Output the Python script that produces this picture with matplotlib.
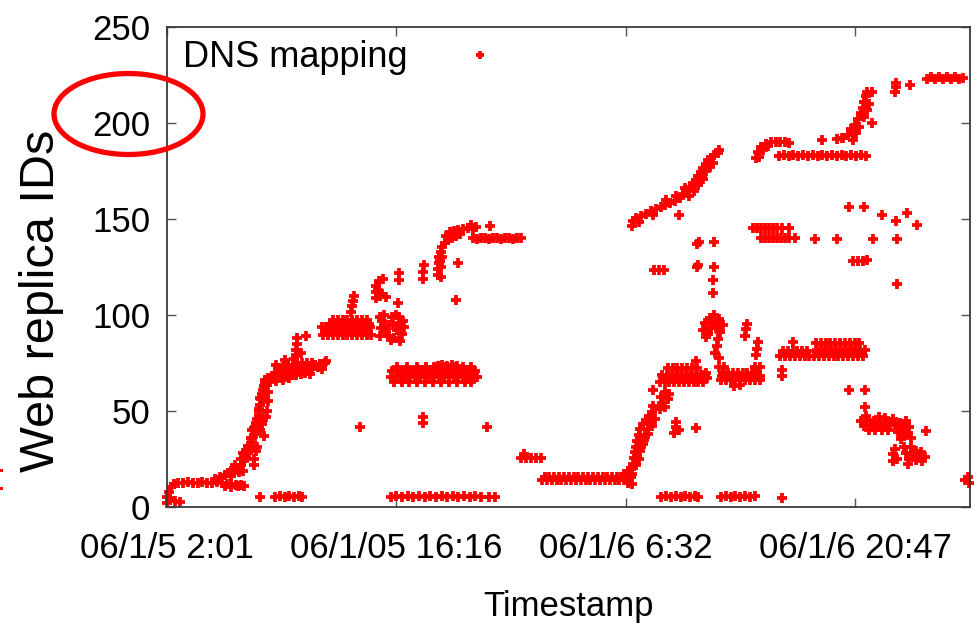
import matplotlib
matplotlib.use("Agg")
import matplotlib.pyplot as plt
from matplotlib.patches import Ellipse, Rectangle

# ---------------- data (hours since 06/1/5 2:01, replica ID) ----------------
x_tick_hours = [0.0, 14.25, 28.5, 42.75]
x_tick_labels = ["06/1/5 2:01", "06/1/05 16:16", "06/1/6 6:32", "06/1/6 20:47"]
y_ticks = [0, 50, 100, 150, 200, 250]

start_t = [0.0, 0.0, 0.1, 0.25, 0.45, 0.5, 0.8, 0.2]
start_id = [2, 5, 8, 10.5, 12, 3, 2.5, 4.5]

plat1_t = [0.7, 1.0, 1.3, 1.6, 1.9, 2.2, 2.5, 2.8, 3.1, 3.4, 3.7, 4.0, 4.3, 4.6, 3.6, 4.0, 4.4, 4.8]
plat1_id = [12.5, 12.5, 13, 12.5, 12.5, 13, 12.5, 12.5, 13, 12.5, 12, 12, 11.5, 11.5, 11, 10.5, 11, 11]

ramp1_t = [3.0, 3.3, 3.6, 3.8, 4.0, 4.2, 4.4, 4.0, 4.5, 4.7, 4.6, 4.8, 4.9, 5.0, 5.1, 5.2, 5.3,
           5.4, 5.3, 5.5, 5.4, 5.5, 5.6, 5.7, 5.8, 5.9, 5.7, 6.0, 5.8, 5.85, 5.9, 5.95, 6.0,
           6.1, 6.2, 6.3, 6.1, 6.3, 6.5, 6.7, 6.9, 6.4,
           4.6, 5.4, 5.5, 5.3, 5.9, 6.15, 5.8, 6.3, 4.2, 4.7, 5.2, 5.7, 5.05, 5.6, 6.05]
ramp1_id = [14.5, 15.5, 16.5, 17.5, 18.5, 19.5, 20.5, 16, 18, 19, 22, 24, 26, 28, 30, 32, 34,
            25, 36, 38, 41, 44, 46, 48, 40, 43, 51, 37, 53, 56, 59, 61, 63, 64, 50, 55, 66,
            67, 68, 69, 70, 65,
            25, 22, 29, 40, 45, 47, 57, 60, 22, 28, 36, 50, 32, 31, 56]

bulk1_t = [6.7, 7.0, 7.3, 7.6, 7.9, 8.2, 8.5, 8.8, 6.9, 7.2, 7.5, 7.8, 8.1, 8.4, 8.7, 9.0,
           7.4, 7.7, 8.0, 8.3, 8.6, 9.2, 9.5, 9.8, 9.0, 9.4,
           6.8, 7.2, 7.6, 6.8, 7.3, 7.9, 8.9, 9.6, 9.9]
bulk1_id = [69, 70, 70.5, 71, 71.5, 72, 72, 72.5, 72.5, 73, 73.5, 74, 74.5, 75, 75, 75,
            68, 68.5, 69, 69.5, 70, 74, 74.5, 75, 72, 73,
            65.5, 66, 67, 74, 76.5, 77, 69.5, 72, 76]

spike1_t = [8.0, 8.0, 8.05, 8.1, 8.3, 8.65]
spike1_id = [79, 82, 85, 88, 80, 89]

low1_t = [5.75, 6.7, 7.0, 7.3, 7.6, 7.9, 8.2, 8.4]
low1_id = [5.2, 5, 5.5, 5, 5.5, 5, 5.5, 5]

b1_t = [9.7, 10.0, 10.3, 10.6, 10.9, 11.2, 11.5, 11.8, 12.1, 12.4, 12.7,
        9.6, 9.9, 10.2, 10.5, 10.8, 11.1, 11.4, 11.7, 12.0, 12.3, 12.6,
        10.3, 10.6, 10.9, 11.2, 11.5, 11.8, 12.1, 12.4,
        11.45, 11.5, 11.55, 11.6,
        9.8, 10.1, 10.4, 10.7, 11.0, 11.3, 11.6, 11.9, 12.2, 12.5,
        10.15, 10.45, 10.75, 11.05, 11.35, 11.65, 11.95, 12.25, 12.55]
b1_id = [89.5, 89.5, 89.5, 89.5, 89.5, 89.5, 89.5, 89.5, 89.5, 89.5, 89.5,
         93.5, 93.5, 93.5, 93.5, 93.5, 93.5, 93.5, 93.5, 93.5, 93.5, 93.5,
         97.5, 97.5, 97.5, 97.5, 97.5, 97.5, 97.5, 97.5,
         101.5, 104.5, 107.5, 110,
         91.5, 91.5, 91.5, 91.5, 91.5, 91.5, 91.5, 91.5, 91.5, 91.5,
         95.5, 95.5, 95.5, 95.5, 95.5, 95.5, 95.5, 95.5, 95.5]

b2_t = [13.2, 13.3, 13.35, 13.6, 13.8, 14.0, 14.1, 14.3, 14.45, 14.6, 14.5, 13.9, 14.7, 13.5, 14.2, 14.35,
        13.45, 13.75, 14.05, 14.4, 13.25, 14.65]
b2_id = [89, 93, 97, 91, 95, 99, 88, 92, 96, 90, 86.5, 87, 94, 100, 100, 106,
         94, 89, 95, 99, 99, 97]

arc1_t = [13.0, 12.95, 13.0, 13.15, 13.4, 13.35, 13.6, 14.4, 14.4, 15.9, 15.9, 15.95,
          16.85, 16.85, 16.9, 16.9, 17.0, 17.1, 17.25, 17.45, 17.7, 17.95, 18.2, 17.05, 17.0,
          17.6, 17.85, 18.1, 18.4, 18.7, 19.0, 19.2, 20.05, 18.1, 17.95,
          13.1, 13.2, 17.0, 16.95, 17.3, 18.9]
arc1_id = [109, 112, 115, 117.5, 119, 111, 109.5, 118, 122, 118.5, 122.5, 126,
           121, 124, 127, 130, 133, 135.5, 137.5, 139, 140, 141, 142, 130, 125,
           143, 144, 144.5, 145, 145.5, 145, 146, 146.5, 127, 108,
           113, 110, 120, 128, 141, 147]

bar140_t = [19.0, 19.25, 19.5, 19.75, 20.0, 20.25, 20.5, 20.75, 21.0, 21.25, 21.5, 21.75, 22.0]
bar140_id = [140, 139.5, 140, 140, 139.5, 140, 140, 139.5, 140, 140, 139.5, 140, 140]

c70_t = [13.9, 14.2, 14.5, 14.8, 15.1, 15.4, 15.7, 16.0, 16.3, 16.6, 16.9, 17.2, 17.5, 17.8,
         18.1, 18.4, 18.7, 19.0, 19.25,
         14.0, 14.35, 14.65, 14.95, 15.25, 15.55, 15.85, 16.15, 16.45, 16.75, 17.05, 17.35,
         17.65, 17.95, 18.25, 18.55, 18.85, 19.15,
         16.8, 17.1, 17.4, 17.7, 18.0,
         14.1, 14.6, 15.0, 15.5, 16.0, 16.5, 17.0, 17.5, 18.0, 18.5, 18.9,
         14.3, 14.9, 15.5, 16.1, 16.6, 17.3, 17.9, 18.4, 18.9]
c70_id = [67.5, 67.5, 67.5, 67.5, 67.5, 67.5, 67.5, 67.5, 67.5, 67.5, 67.5, 67.5, 67.5, 67.5,
          67.5, 67.5, 67.5, 67.5, 67.5,
          71, 71, 71, 71, 71, 71, 71, 71, 71, 71, 71, 71, 71, 71, 71, 71, 71, 71,
          73.5, 74, 73.5, 74, 73.5,
          65, 65, 65, 65, 65, 65, 65, 65, 65, 65, 65,
          73, 73, 73, 73, 73, 73, 73, 73, 73]

mid40_t = [12.0, 15.9, 15.9, 19.9]
mid40_id = [41.6, 47, 43.6, 41.6]

low5a_t = [13.9, 14.25, 14.6, 14.95, 15.3, 15.65, 16.0, 16.35, 16.7, 17.05, 17.4, 17.75,
           18.1, 18.45, 18.8, 19.15, 19.5, 20.0, 20.4]
low5a_id = [5, 5.5, 5, 5.5, 5, 5.5, 5, 5.5, 5, 5.5, 5, 5.5, 5, 5.5, 5, 5.5, 5, 5, 5]

d25_t = [22.0, 22.3, 22.6, 22.9, 23.2, 22.15]
d25_id = [25.5, 25.5, 25.5, 25.5, 25.5, 27.5]

e15_t = [23.3, 23.6, 23.9, 24.2, 24.5, 24.8, 25.1, 25.4, 25.7, 26.0, 26.3, 26.6, 26.9, 27.2,
         27.5, 27.8, 28.1, 28.4, 28.7,
         23.45, 23.75, 24.05, 24.35, 24.65, 24.95, 25.25, 25.55, 25.85, 26.15, 26.45, 26.75,
         27.05, 27.35, 27.65, 27.95, 28.25, 28.55, 28.8, 28.6, 28.9]
e15_id = [14, 14, 14, 14, 14, 14, 14, 14, 14, 14, 14, 14, 14, 14, 14, 14, 14, 14, 14,
          15.8, 15.8, 15.8, 15.8, 15.8, 15.8, 15.8, 15.8, 15.8, 15.8, 15.8, 15.8,
          15.8, 15.8, 15.8, 15.8, 15.8, 15.8, 15.8, 12.5, 12]

rise2_t = [28.4, 28.6, 28.8, 28.95, 29.0, 29.05, 29.1, 29.2, 29.3, 29.4, 29.55, 29.75, 29.95,
           30.15, 29.35, 29.55, 29.7, 29.85, 30.0, 29.2, 30.2, 30.2,
           29.15, 29.3, 29.45, 29.65, 29.9, 30.1, 30.3, 28.9]
rise2_id = [17, 18.5, 20, 22.5, 25.5, 28.5, 31.5, 34.5, 37.5, 40.5, 43, 45.5, 47.5,
            49.5, 29, 33, 37, 40.5, 43.5, 26, 52.5, 61,
            22, 25, 31, 35, 38, 42, 46, 17]

f55_t = [30.6, 30.75, 30.7, 30.9, 31.1, 30.95, 31.2]
f55_id = [51, 54, 57.5, 60, 56, 52, 59]

f70_t = [30.6, 30.9, 31.2, 31.5, 31.8, 32.1, 32.4, 32.7, 33.0, 33.3,
         30.75, 31.05, 31.35, 31.65, 31.95, 32.25, 32.55, 32.85, 33.15, 33.4,
         31.1, 31.4, 31.7, 32.0, 32.3, 32.6, 32.9, 32.85, 33.5, 33.55,
         30.85, 31.15, 31.45, 31.75, 32.05, 32.35, 32.65, 32.95, 33.25]
f70_id = [65, 65, 65, 65, 65, 65, 65, 65, 65, 65,
          69, 69, 69, 69, 69, 69, 69, 69, 69, 69,
          72.5, 72.5, 72.5, 72.5, 72.5, 72.5, 72.5, 76, 70, 67,
          67, 67, 67, 67, 67, 67, 67, 67, 67]

f40_t = [31.5, 31.6, 31.6, 31.8, 32.85]
f40_id = [38.5, 41.5, 44.5, 40, 41]

arc2_t = [28.85, 28.95, 29.15, 29.45, 29.75, 30.05, 30.35, 30.65, 30.95, 31.25, 31.55, 31.85,
          32.05, 32.25, 32.45, 32.65, 32.85, 33.0, 33.15, 33.3, 33.45, 33.6, 33.8, 34.0, 34.2,
          32.4, 32.7, 33.0, 33.3, 33.5, 33.7, 34.3, 29.3, 30.2,
          31.0, 31.6, 32.2, 32.9, 33.2, 33.9]
arc2_id = [146.5, 149, 150.5, 151.5, 152.5, 154, 155, 156, 157.5, 158.5, 159.5, 161,
           163, 164.5, 166.5, 168.5, 170.5, 172.5, 174.5, 176.5, 178.5, 180.5, 182, 183.5, 184.5,
           162, 164.5, 167.5, 171, 175, 177, 186, 148.5, 152,
           160, 162, 166, 169, 172, 179]

mid_sing_t = [31.8, 32.9, 33.05, 34.0, 32.9, 33.0, 34.0, 33.9, 33.9, 30.25, 30.55, 30.85]
mid_sing_id = [152, 137, 138, 138, 125, 126, 125, 118, 111.5, 123.5, 123.5, 123.5]

h95_t = [33.3, 33.5, 33.7, 33.9, 34.1, 34.35, 34.5, 33.6, 34.0, 34.3, 33.5, 34.05, 34.15, 34.2, 34.3,
         33.8, 34.2, 33.4]
h95_id = [92, 95.5, 98.5, 96, 93, 91, 95, 90, 100, 98, 88.5, 80, 84, 87.5, 77.5,
          93, 96, 96]

u70_t = [34.4, 34.7, 35.0, 35.3, 35.6, 35.9, 36.2, 36.5, 36.8,
         34.55, 34.85, 35.15, 35.45, 35.75, 36.05, 36.35, 36.65,
         34.3, 34.6, 36.5, 36.8, 35.2, 35.6,
         35.9, 35.95, 36.0, 36.55, 36.65, 36.7, 38.2, 38.2,
         34.45, 34.75, 35.05, 35.35, 35.65, 35.95, 36.25, 36.55, 36.85]
u70_id = [66, 66, 66, 66, 66, 66, 66, 66, 66,
          70, 70, 70, 70, 70, 70, 70, 70,
          73, 73, 73, 73, 63, 63.5,
          89, 92.5, 95.5, 79, 82.5, 86, 68, 71.5,
          68, 68, 68, 68, 68, 68, 68, 68, 68]

i80_t = [38.1, 38.4, 38.7, 39.0, 39.3, 39.6, 39.9,
         38.25, 38.55, 38.85, 39.15, 39.45, 39.75, 38.9,
         40.2, 40.5, 40.8, 41.1, 41.4, 41.7, 42.0, 42.3, 42.6, 42.9, 43.2,
         40.35, 40.65, 40.95, 41.25, 41.55, 41.85, 42.15, 42.45, 42.75, 43.05, 43.35,
         40.3, 40.6, 40.9, 41.2, 41.5, 41.8, 42.1, 42.4, 42.7, 43.0,
         40.45, 40.75, 41.05, 41.35, 41.65, 41.95, 42.25, 42.55, 42.85, 43.15]
i80_id = [78.5, 78.5, 78.5, 78.5, 78.5, 78.5, 78.5,
          81, 81, 81, 81, 81, 81, 86,
          78.5, 78.5, 78.5, 78.5, 78.5, 78.5, 78.5, 78.5, 78.5, 78.5, 78.5,
          82, 82, 82, 82, 82, 82, 82, 82, 82, 82, 82,
          85.5, 85.5, 85.5, 85.5, 85.5, 85.5, 85.5, 85.5, 85.5, 85.5,
          80, 80, 80, 80, 80, 80, 80, 80, 80, 80]

arc3_t = [36.6, 36.7, 36.9, 37.2, 37.5, 37.8, 38.1, 38.4, 38.6, 36.75, 37.0, 37.35]
arc3_id = [182, 185, 187.5, 189, 190, 190, 190, 190, 189.5, 182.5, 186, 188]

bar183_t = [38.0, 38.3, 38.6, 38.9, 39.2, 39.5, 39.8, 40.1, 40.4, 40.7, 41.0, 41.3, 41.6,
            41.9, 42.2, 42.5, 42.8, 43.1, 43.4]
bar183_id = [183, 183.5, 183, 183.5, 183, 183.5, 183, 183.5, 183, 183.5, 183, 183.5, 183,
             183.5, 183, 183.5, 183, 183.5, 183]

rise3_t = [40.7, 41.6, 42.6, 41.9, 42.0, 42.3, 42.5, 42.7, 42.9, 43.1, 43.2, 43.3, 43.4, 43.5,
           42.8, 43.0, 43.3, 43.5, 43.6, 43.8, 43.8, 45.2, 45.25, 45.3, 46.15]
rise3_id = [191, 191.5, 191, 192, 192, 194, 197, 199, 202, 205, 208, 211, 214, 216,
            195, 198, 203, 207, 210, 216, 200, 216, 218.5, 221, 220]

bar223_t = [47.2, 47.45, 47.7, 47.95, 48.2, 48.45, 48.7, 48.95, 49.2, 49.45]
bar223_id = [223, 224, 223, 224, 223, 224, 223, 224, 223, 223.5]

k140_t = [36.4, 36.65, 36.9, 37.15, 37.4, 37.65, 37.9, 38.2, 38.6,
          36.9, 37.15, 37.4, 37.65, 37.9, 38.15, 38.4, 38.65, 39.0,
          40.25, 41.6, 43.85, 45.35,
          42.35, 43.3, 44.4, 45.3, 45.95, 46.6,
          42.6, 42.9, 43.2, 43.45, 45.35]
k140_id = [145.5, 145.5, 145.5, 145.5, 145.5, 145.5, 145.5, 145.5, 145.5,
           140, 140, 140, 140, 140, 140, 140, 140, 140,
           139.5, 139.5, 139.5, 139.5,
           156, 156, 152, 149, 153, 147,
           128, 128, 128, 128.5, 116]

l40_t = [42.35, 43.35, 43.35,
         43.1, 43.3, 43.5, 43.7, 43.9, 44.1, 44.3, 44.5, 44.7, 44.9, 43.4,
         45.1, 45.2, 45.4, 45.5, 45.7, 45.8, 46.0, 46.2, 47.15,
         43.6, 44.0, 44.4, 44.8, 44.2, 44.6, 45.9, 46.1, 45.6]
l40_id = [61, 61, 52,
          45, 42, 45.5, 42.5, 45, 42, 44.5, 42, 44, 42.5, 47.5,
          46, 42.5, 39, 44, 40.5, 37, 38.5, 36, 39.5,
          40, 40, 40, 40, 47, 46.5, 45, 41.5, 35.5]

l25_t = [45.1, 45.1, 45.2, 45.35, 45.8, 45.9, 46.1, 46.3, 46.5, 46.7, 46.9, 47.1, 46.2, 46.5,
         49.55, 49.75, 49.8, 46.0, 46.8]
l25_id = [24, 27.5, 30, 25, 31, 28, 25, 27.5, 24.5, 26, 24, 26, 31, 29,
          14, 15.5, 12.5, 22.5, 28.5]

low5b_t = [30.7, 31.0, 31.3, 31.6, 31.9, 32.2, 32.5, 32.8, 33.0,
           34.4, 34.7, 35.0, 35.3, 35.6, 35.9, 36.2, 36.5, 38.2]
low5b_id = [5, 5.5, 5, 5.5, 5, 5.5, 5, 5.5, 5,
            5, 5.5, 5, 5.5, 5, 5.5, 5, 5.5, 4.7]

groups_t = [start_t, plat1_t, ramp1_t, bulk1_t, spike1_t, low1_t, b1_t, b2_t, arc1_t,
            bar140_t, c70_t, mid40_t, low5a_t, d25_t, e15_t, rise2_t, f55_t, f70_t, f40_t,
            arc2_t, mid_sing_t, h95_t, u70_t, i80_t, arc3_t, bar183_t, rise3_t, bar223_t,
            k140_t, l40_t, l25_t, low5b_t]
groups_id = [start_id, plat1_id, ramp1_id, bulk1_id, spike1_id, low1_id, b1_id, b2_id, arc1_id,
             bar140_id, c70_id, mid40_id, low5a_id, d25_id, e15_id, rise2_id, f55_id, f70_id, f40_id,
             arc2_id, mid_sing_id, h95_id, u70_id, i80_id, arc3_id, bar183_id, rise3_id, bar223_id,
             k140_id, l40_id, l25_id, low5b_id]

all_t = [v for g in groups_t for v in g]
all_id = [v for g in groups_id for v in g]

# ---------------- drawing ----------------
plt.rcParams['font.family'] = ['Liberation Sans', 'DejaVu Sans']
fig = plt.figure(figsize=(9.78, 6.29), dpi=100)
ax = fig.add_axes([167 / 978, 1 - 507 / 629, (970 - 167) / 978, (507 - 27) / 629])

line, = ax.plot(all_t, all_id, linestyle='none', marker='+', color='#ff0000',
                markersize=7.6, markeredgewidth=2.7, clip_on=False, label='DNS mapping')

ax.set_xlim(0, 49.87)
ax.set_ylim(0, 250)
ax.set_xticks(x_tick_hours)
ax.set_xticklabels(x_tick_labels)
ax.set_yticks(y_ticks)

for s in ax.spines.values():
    s.set_color('#3a3a3a')
    s.set_linewidth(1.3)

ax.tick_params(axis='both', direction='in', length=6.5, width=1.0, color='#555555',
               top=True, right=True, labelsize=25, labelcolor='black')
ax.tick_params(axis='y', pad=12)
ax.tick_params(axis='x', pad=18)

ax.set_xlabel('Timestamp', fontsize=25, labelpad=18)
ax.set_ylabel('Web replica IDs', fontsize=35)
ax.yaxis.set_label_coords(-0.128, 0.43)

leg = ax.legend(handles=[line], loc='upper left', bbox_to_anchor=(0.02, 0.972),
                frameon=False, markerfirst=False, fontsize=26, handlelength=2.5,
                handletextpad=0.75, borderpad=0.0, borderaxespad=0.0, markerscale=0.75)

# red highlight ellipse around the 200 tick label
ell = Ellipse((128.5 / 978, 1 - 114 / 629), 149 / 978, 81 / 629, transform=fig.transFigure,
              fill=False, edgecolor='#ff0000', linewidth=3.8, clip_on=False)
fig.patches.append(ell)

# small red fragments at the far left edge
for yy in (469, 487):
    fig.patches.append(Rectangle((0, 1 - (yy + 3) / 629), 3 / 978, 3 / 629,
                                 transform=fig.transFigure, color='#ff0000', lw=0))

fig.savefig('out.png', dpi=100)
